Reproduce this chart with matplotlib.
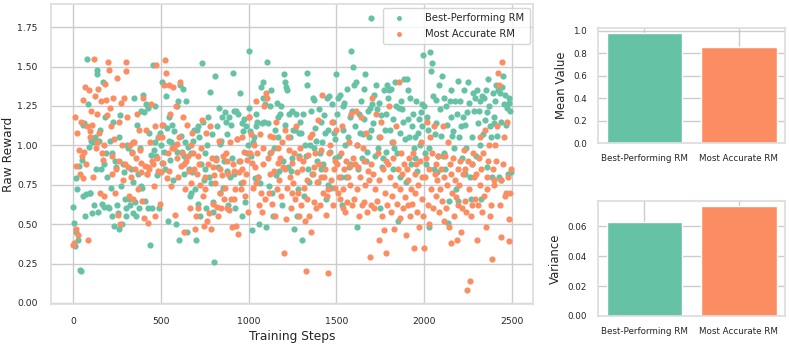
import numpy as np
import matplotlib
matplotlib.use("Agg")
import matplotlib.pyplot as plt
import seaborn as sns

sns.set_theme(style="whitegrid")
plt.rcParams['font.family'] = ['DejaVu Sans']

# Training steps (one point every 5 steps)
steps = list(range(0, 2500, 5))

best_rm = [
    # 0-95
    0.61, 0.51, 0.36, 0.79, 0.45, 0.72, 0.40, 0.87, 0.21, 0.20, 0.91, 1.13, 0.68, 1.14, 0.55, 0.69, 1.55, 1.26, 0.99, 0.70,
    0.70, 1.03, 0.57, 1.02, 0.62, 1.05, 0.85, 1.48, 1.45, 0.58, 1.03, 1.10, 0.85, 0.63, 1.40, 0.61, 0.88, 1.18, 0.95, 0.80,
    # 200-295
    0.61, 0.60, 1.03, 0.73, 0.95, 0.55, 1.15, 0.49, 0.90, 0.86, 0.62, 0.57, 1.05, 0.47, 1.19, 0.74, 0.50, 0.88, 0.83, 0.66,
    0.55, 0.60, 1.00, 0.98, 0.66, 0.62, 0.85, 0.96, 0.57, 0.77, 1.30, 0.64, 0.55, 1.13, 0.82, 0.60, 0.98, 0.74, 1.22, 0.73,
    # 400-495
    1.32, 1.21, 0.65, 1.26, 0.82, 1.24, 0.60, 1.08, 0.37, 0.94, 0.60, 1.51, 0.97, 1.02, 1.25, 0.93, 0.81, 1.05, 0.60, 1.08,
    1.00, 0.89, 1.40, 1.13, 0.96, 0.85, 1.31, 1.11, 0.52, 1.03, 1.18, 0.91, 1.02, 1.13, 0.78, 1.09, 1.00, 0.50, 1.25, 0.96,
    # 600-695
    1.28, 0.40, 1.38, 1.06, 0.96, 1.36, 0.82, 0.93, 1.02, 1.28, 0.45, 0.99, 0.85, 0.68, 0.95, 0.70, 0.83, 1.03, 1.10, 0.72,
    0.40, 1.10, 0.63, 1.12, 1.05, 0.55, 0.88, 1.52, 1.15, 0.78, 0.95, 0.85, 0.60, 1.00, 1.18, 0.80, 1.34, 0.76, 1.07, 0.64,
    # 800-895
    0.58, 0.26, 1.44, 0.92, 1.12, 0.86, 1.24, 1.01, 0.70, 1.03, 1.18, 0.73, 0.90, 1.21, 1.15, 1.07, 0.84, 0.62, 1.18, 0.80,
    1.13, 0.92, 1.46, 1.22, 0.82, 0.60, 1.22, 1.04, 1.20, 0.90, 1.33, 0.76, 0.55, 1.14, 1.09, 1.17, 0.64, 1.12, 0.95, 1.00,
    # 1000-1095
    1.60, 1.24, 1.09, 0.93, 0.46, 1.02, 1.05, 0.79, 1.20, 1.12, 1.15, 0.80, 0.50, 0.76, 1.37, 1.14, 1.40, 1.30, 1.15, 1.26,
    0.48, 1.53, 1.14, 0.74, 0.95, 1.25, 1.35, 0.70, 0.55, 0.98, 1.10, 0.81, 1.27, 1.05, 1.18, 0.84, 1.20, 1.25, 0.62, 0.90,
    # 1200-1295
    1.45, 1.40, 1.13, 1.37, 1.35, 0.86, 1.20, 1.05, 0.84, 0.92, 1.22, 1.10, 0.47, 1.10, 1.20, 0.55, 0.72, 1.08, 0.93, 1.15,
    1.08, 0.40, 1.20, 0.68, 1.00, 0.93, 1.46, 1.38, 0.85, 0.77, 1.00, 1.22, 0.82, 1.30, 1.29, 0.98, 1.11, 1.03, 0.90, 0.77,
    # 1400-1495
    1.23, 0.95, 1.15, 0.85, 1.02, 0.88, 1.19, 1.08, 0.66, 1.30, 0.75, 1.10, 1.31, 0.96, 0.73, 1.26, 1.15, 1.08, 0.92, 1.04,
    1.45, 1.20, 1.30, 0.93, 1.32, 0.80, 0.62, 1.25, 1.10, 1.27, 1.00, 0.80, 1.36, 1.05, 0.86, 1.18, 0.88, 1.60, 1.22, 1.50,
    # 1600-1695
    1.38, 1.12, 1.40, 0.48, 1.00, 0.85, 1.20, 1.08, 1.28, 0.92, 1.07, 1.36, 1.17, 1.45, 0.90, 0.96, 1.22, 1.05, 1.24, 1.10,
    1.81, 1.26, 1.14, 1.32, 0.93, 1.38, 1.23, 0.98, 1.05, 1.27, 0.60, 1.19, 0.86, 0.92, 1.35, 1.10, 1.20, 0.96, 1.38, 1.30,
    # 1800-1895
    1.35, 1.10, 1.36, 1.02, 1.17, 0.85, 0.98, 1.40, 1.25, 0.95, 0.52, 1.24, 1.08, 0.80, 1.28, 1.23, 1.15, 1.42, 1.04, 0.77,
    1.42, 1.35, 1.17, 1.05, 1.30, 0.88, 1.12, 1.20, 0.98, 0.92, 1.05, 1.28, 0.84, 1.08, 1.17, 1.00, 1.21, 1.26, 1.12, 1.57,
    # 2000-2095
    1.25, 0.95, 0.88, 1.18, 1.10, 0.48, 0.98, 1.59, 1.47, 1.52, 1.31, 0.85, 1.07, 1.14, 1.29, 0.83, 0.93, 1.38, 1.23, 1.06,
    1.44, 0.93, 1.30, 0.95, 0.85, 1.25, 1.13, 0.51, 0.65, 1.28, 1.18, 1.35, 1.06, 1.09, 0.98, 1.28, 0.72, 1.20, 1.41, 0.65,
    # 2200-2295
    1.05, 1.28, 1.12, 0.92, 1.18, 1.35, 0.82, 1.13, 0.98, 1.21, 1.40, 1.27, 0.80, 0.66, 1.05, 0.88, 1.33, 1.22, 1.30, 0.93,
    1.35, 1.14, 1.22, 1.28, 1.00, 0.66, 1.31, 1.07, 1.30, 1.16, 1.35, 1.21, 0.86, 1.42, 1.25, 1.12, 1.05, 0.80, 1.33, 1.18,
    # 2400-2495
    1.14, 1.28, 1.38, 1.06, 1.35, 0.80, 1.33, 1.15, 0.78, 1.37, 1.44, 1.26, 1.32, 1.13, 1.24, 0.82, 1.30, 1.27, 1.22, 0.83,
]

most_accurate_rm = [
    # 0-95
    0.37, 0.38, 1.18, 0.47, 0.87, 1.08, 0.43, 0.97, 0.82, 1.15, 0.93, 0.79, 1.29, 0.96, 1.37, 0.88, 1.12, 0.40, 1.35, 1.05,
    1.09, 1.22, 1.13, 0.80, 1.55, 1.31, 0.98, 1.02, 1.20, 1.36, 1.08, 0.70, 1.28, 0.95, 0.91, 0.68, 1.00, 1.39, 1.29, 1.19,
    # 200-295
    1.53, 1.48, 1.24, 1.12, 0.82, 0.93, 1.30, 1.04, 0.70, 0.85, 1.43, 0.56, 0.90, 1.15, 0.50, 1.27, 1.00, 0.78, 1.30, 0.88,
    1.53, 1.47, 1.18, 0.86, 0.68, 1.00, 0.80, 0.95, 1.02, 0.66, 1.02, 0.85, 0.92, 1.20, 0.72, 1.10, 0.97, 0.89, 0.83, 0.65,
    # 400-495
    1.30, 0.54, 0.87, 1.10, 0.82, 0.51, 0.86, 0.85, 1.02, 1.26, 0.90, 0.88, 0.74, 0.55, 1.12, 1.51, 0.92, 0.84, 1.05, 0.63,
    0.83, 1.05, 1.13, 0.89, 1.38, 1.54, 1.46, 0.79, 0.95, 1.38, 0.84, 1.20, 0.74, 0.98, 1.37, 0.98, 0.56, 1.25, 1.01, 0.92,
    # 600-695
    0.80, 1.05, 1.40, 0.87, 0.95, 1.18, 0.45, 0.88, 0.72, 0.90, 1.13, 0.93, 0.84, 0.60, 1.00, 0.76, 1.08, 0.95, 0.85, 0.47,
    0.55, 0.82, 0.60, 0.93, 0.88, 0.75, 0.98, 1.16, 0.68, 0.49, 0.80, 0.72, 1.08, 0.52, 0.88, 0.57, 1.12, 0.47, 0.92, 0.86,
    # 800-895
    0.63, 0.81, 0.76, 0.91, 0.61, 0.55, 1.03, 0.70, 0.85, 0.60, 0.81, 0.93, 0.66, 0.73, 0.95, 0.60, 0.90, 0.82, 0.59, 1.02,
    0.66, 0.48, 0.88, 0.84, 0.66, 0.72, 0.49, 1.04, 0.44, 0.83, 0.90, 0.72, 1.05, 0.85, 0.77, 0.96, 0.68, 0.82, 0.91, 0.58,
    # 1000-1095
    1.18, 1.18, 0.95, 1.07, 0.89, 0.73, 1.00, 0.86, 0.76, 1.28, 0.95, 0.80, 0.62, 1.07, 0.70, 0.58, 0.88, 0.98, 1.25, 0.66,
    1.33, 1.30, 0.92, 0.70, 0.82, 1.06, 0.96, 0.63, 1.05, 0.84, 0.55, 1.15, 0.72, 0.89, 0.98, 0.78, 0.92, 0.68, 1.02, 0.86,
    # 1200-1295
    0.32, 0.85, 1.10, 0.53, 0.73, 1.05, 0.97, 0.80, 0.60, 0.70, 0.89, 0.76, 0.95, 0.66, 1.12, 0.83, 0.70, 0.92, 0.55, 0.98,
    0.62, 0.85, 0.90, 0.73, 0.52, 0.20, 0.66, 0.78, 0.94, 0.55, 1.05, 0.45, 1.07, 0.82, 0.64, 0.86, 0.95, 0.60, 0.77, 1.16,
    # 1400-1495
    0.88, 0.62, 0.80, 0.97, 1.32, 0.70, 0.80, 0.85, 0.56, 0.68, 0.72, 0.19, 0.95, 1.00, 0.78, 1.15, 0.62, 0.85, 0.73, 0.90,
    1.10, 0.88, 0.70, 0.80, 0.66, 0.95, 1.12, 0.72, 0.60, 0.85, 0.58, 0.90, 0.64, 0.80, 1.02, 0.75, 0.87, 1.20, 0.62, 0.92,
    # 1600-1695
    0.66, 0.88, 1.22, 1.00, 0.72, 0.86, 0.55, 0.80, 1.18, 0.62, 0.98, 0.64, 0.90, 0.75, 1.08, 0.58, 0.84, 0.78, 0.29, 0.62,
    0.88, 1.30, 0.82, 0.60, 0.72, 1.20, 0.65, 0.95, 0.40, 0.78, 1.05, 1.15, 0.55, 0.85, 0.46, 0.70, 0.90, 0.32, 0.62, 0.88,
    # 1800-1895
    1.25, 0.80, 0.58, 0.68, 1.02, 0.92, 0.47, 0.75, 1.12, 0.63, 0.85, 1.40, 0.72, 0.54, 0.95, 0.82, 0.60, 0.88, 0.67, 0.43,
    0.85, 0.62, 0.78, 0.92, 0.55, 0.72, 0.63, 0.95, 0.35, 0.82, 0.70, 0.88, 0.58, 0.75, 0.48, 0.90, 1.02, 0.66, 0.80, 0.55,
    # 2000-2095
    0.35, 0.80, 0.92, 1.15, 0.62, 0.50, 0.85, 1.05, 0.72, 0.95, 0.60, 1.12, 0.82, 0.88, 0.68, 0.78, 0.93, 0.58, 0.72, 0.85,
    0.65, 1.12, 0.80, 0.52, 0.93, 0.60, 0.75, 1.02, 0.48, 0.88, 0.38, 0.82, 0.70, 0.92, 0.55, 0.78, 0.67, 0.40, 0.85, 0.62,
    # 2200-2295
    0.75, 0.90, 0.45, 0.60, 0.82, 0.97, 0.65, 0.85, 0.58, 0.08, 0.90, 0.72, 0.14, 0.55, 0.88, 0.62, 0.95, 0.80, 0.66, 0.82,
    0.40, 0.62, 0.92, 1.05, 0.75, 0.85, 0.58, 0.95, 0.68, 1.10, 0.48, 0.80, 0.72, 0.90, 1.00, 0.55, 0.62, 0.28, 0.85, 0.78,
    # 2400-2495
    0.75, 1.00, 0.90, 1.12, 1.46, 1.38, 0.62, 0.42, 0.78, 1.53, 0.88, 1.05, 0.68, 0.70, 1.15, 0.80, 0.53, 0.39, 0.70, 0.85,
]

model_names = ["Best-Performing RM", "Most Accurate RM"]
mean_values = [0.98, 0.855]
variance_values = [0.063, 0.0735]

colors = ["#66c2a5", "#fc8d62"]

fig = plt.figure(figsize=(7.89, 3.44), dpi=100)
ax = fig.add_axes([0.0646, 0.1163, 0.611, 0.872])
ax_mean = fig.add_axes([0.758, 0.5834, 0.237, 0.336])
ax_var = fig.add_axes([0.758, 0.0814, 0.237, 0.335])

ax.scatter(steps, best_rm, s=20, color=colors[0], linewidths=0, label=model_names[0])
ax.scatter(steps, most_accurate_rm, s=20, color=colors[1], linewidths=0, label=model_names[1])
ax.set_xlabel("Training Steps", fontsize=8.8, labelpad=3)
ax.set_ylabel("Raw Reward", fontsize=8.8)
ax.yaxis.set_label_coords(-0.074, 0.5)
ax.tick_params(labelsize=6.7, pad=3.5)
ax.set_xticks([0, 500, 1000, 1500, 2000, 2500])
ax.set_yticks([0, 0.25, 0.5, 0.75, 1.0, 1.25, 1.5, 1.75])
ax.yaxis.set_major_formatter(matplotlib.ticker.FormatStrFormatter('%.2f'))
ax.legend(loc="upper right", fontsize=7.2, markerscale=0.8, borderpad=0.55,
          labelspacing=0.55, handletextpad=1.6, borderaxespad=0.35)

ax_mean.bar(model_names, mean_values, color=colors, edgecolor="white")
ax_mean.set_ylabel("Mean Value", fontsize=8.4)
ax_mean.tick_params(labelsize=6.3, pad=2)
ax_mean.set_yticks([0, 0.2, 0.4, 0.6, 0.8, 1.0])

ax_var.bar(model_names, variance_values, color=colors, edgecolor="white")
ax_var.set_ylabel("Variance", fontsize=8.4)
ax_var.tick_params(labelsize=6.3, pad=2)
ax_var.set_yticks([0, 0.02, 0.04, 0.06])

for a in (ax, ax_mean, ax_var):
    for sp in a.spines.values():
        sp.set_color("#dddddd")

fig.savefig("out.png", dpi=100)
